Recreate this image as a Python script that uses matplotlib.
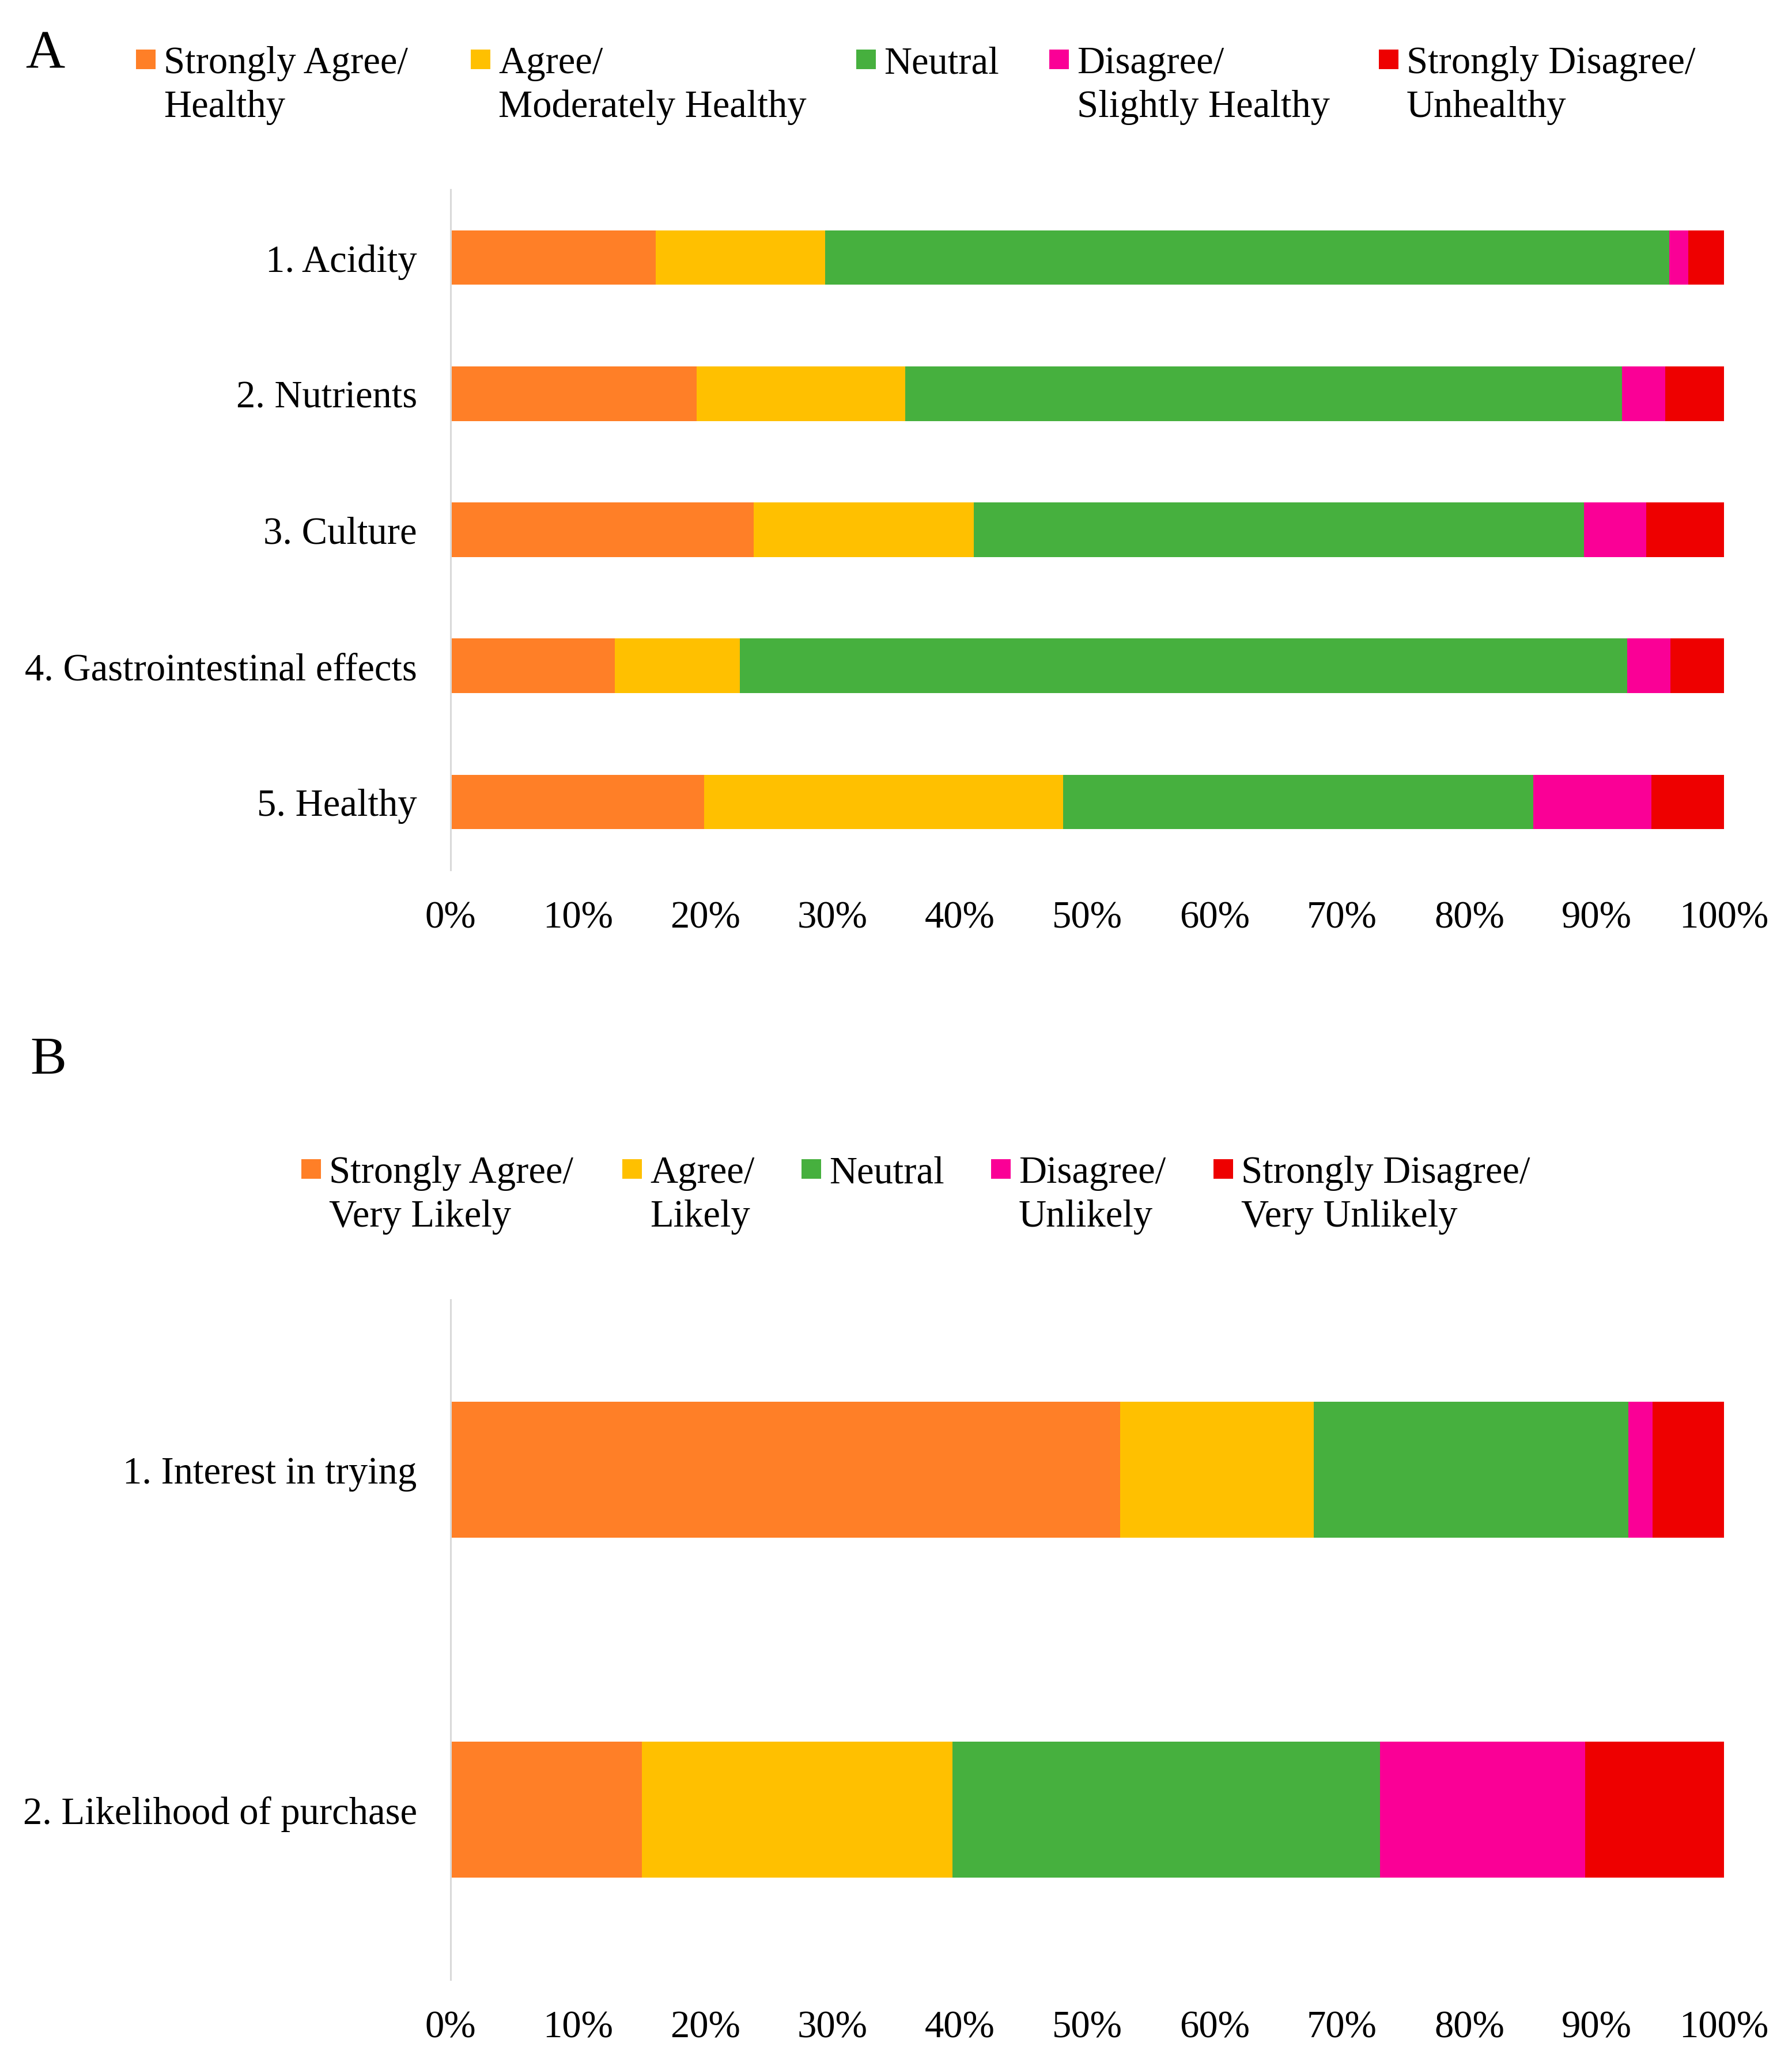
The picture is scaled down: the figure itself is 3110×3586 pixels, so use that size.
import matplotlib
matplotlib.use("Agg")
import matplotlib.pyplot as plt
import numpy as np
from matplotlib.patches import Rectangle

plt.rcParams['font.family'] = 'serif'
plt.rcParams['font.serif'] = ['Liberation Serif', 'Times New Roman', 'DejaVu Serif']

W, H = 3110, 3587
DPI = 200

colors = ['#FF7F27', '#FFC000', '#46B03E', '#FA0096', '#EE0000']

# panel A: share of answers per statement (%)
cats_a = ['1. Acidity', '2. Nutrients', '3. Culture', '4. Gastrointestinal effects', '5. Healthy']
strong_agree_a = [16.1, 19.3, 23.8, 12.9, 19.9]
agree_a = [13.3, 16.4, 17.3, 9.8, 28.2]
neutral_a = [66.3, 56.3, 47.9, 69.7, 36.9]
disagree_a = [1.5, 3.4, 4.9, 3.4, 9.3]
strong_dis_a = [2.8, 4.6, 6.1, 4.2, 5.7]
labels_a = ['Strongly Agree/\nHealthy', 'Agree/\nModerately Healthy', 'Neutral',
            'Disagree/\nSlightly Healthy', 'Strongly Disagree/\nUnhealthy']

# panel B
cats_b = ['1. Interest in trying', '2. Likelihood of purchase']
strong_agree_b = [52.6, 15.0]
agree_b = [15.2, 24.4]
neutral_b = [24.7, 33.6]
disagree_b = [1.9, 16.1]
strong_dis_b = [5.6, 10.9]
labels_b = ['Strongly Agree/\nVery Likely', 'Agree/\nLikely', 'Neutral',
            'Disagree/\nUnlikely', 'Strongly Disagree/\nVery Unlikely']

xticks = np.arange(0, 101, 10)


def fx(px):
    return px / W


def fy(py):
    return 1 - py / H


fig = plt.figure(figsize=(W / DPI, H / DPI), dpi=DPI)


def panel(box, cats, series):
    left, top, right, bottom = box
    ax = fig.add_axes([fx(left), fy(bottom), fx(right) - fx(left), (bottom - top) / H])
    y = np.arange(len(cats))
    start = np.zeros(len(cats))
    for vals, c in zip(series, colors):
        ax.barh(y, vals, left=start, height=0.4, color=c, linewidth=0)
        start = start + np.array(vals)
    ax.set_ylim(len(cats) - 0.5, -0.5)
    ax.set_xlim(0, 100)
    ax.set_yticks(y)
    ax.set_yticklabels(cats, fontsize=24)
    ax.set_xticks(xticks)
    ax.set_xticklabels([f'{v}%' for v in xticks], fontsize=24)
    ax.tick_params(axis='both', length=0)
    ax.tick_params(axis='y', pad=21)
    ax.tick_params(axis='x', pad=19)
    for s in ['top', 'right', 'bottom']:
        ax.spines[s].set_visible(False)
    ax.spines['left'].set_color('#D9D9D9')
    ax.spines['left'].set_linewidth(1.1)
    return ax


def legend(labels, xs, base_y):
    for lab, x, c in zip(labels, xs, colors):
        fig.add_artist(Rectangle((fx(x), fy(base_y - 6)), 34 / W, 34 / H,
                                 transform=fig.transFigure, color=c, linewidth=0))
        for i, line in enumerate(lab.split('\n')):
            fig.text(fx(x + 48), fy(base_y + 76 * i), line, fontsize=24,
                     va='baseline', ha='left')


panel((782, 330, 2992, 1511), cats_a,
      [strong_agree_a, agree_a, neutral_a, disagree_a, strong_dis_a])
panel((782, 2257, 2992, 3437), cats_b,
      [strong_agree_b, agree_b, neutral_b, disagree_b, strong_dis_b])

legend(labels_a, [236, 817, 1486, 1821, 2393], 127)
legend(labels_b, [523, 1080, 1391, 1720, 2106], 2053)

fig.text(fx(44), fy(118), 'A', fontsize=34, va='baseline', ha='left')
fig.text(fx(52), fy(1863), 'B', fontsize=34, va='baseline', ha='left')

fig.savefig('out.png', dpi=DPI, facecolor='white')
